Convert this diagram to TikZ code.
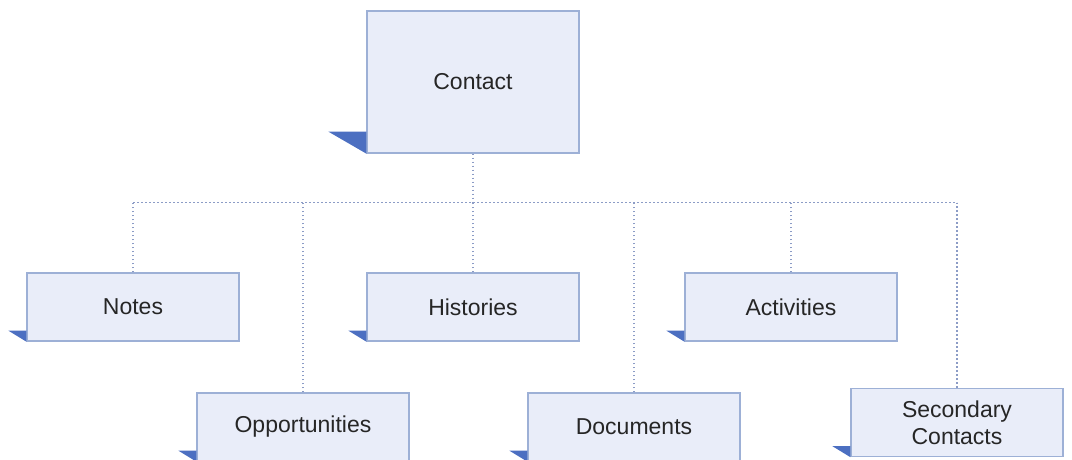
\documentclass[tikz,border=0pt]{standalone}
\usepackage{fontspec}
\setmainfont{Liberation Sans}
\usetikzlibrary{calc}
\definecolor{boxfill}{HTML}{E9EDF9}
\definecolor{boxline}{HTML}{9DB0D6}
\definecolor{flag}{HTML}{4C6FC1}
\definecolor{linkcol}{HTML}{8C9CC6}
\begin{document}
\begin{tikzpicture}[x=1pt,y=-1pt,
  card/.style={draw=boxline, line width=1.3pt, fill=boxfill, text=black!85,
    minimum width=212pt, minimum height=68pt, inner sep=0pt, align=center,
    font=\fontsize{23}{27}\selectfont},
  link/.style={draw=linkcol, line width=1.1pt, dash pattern=on 1.6pt off 2.4pt}]
\useasboundingbox (0,0) rectangle (1072,460);
\node[card, minimum height=142pt] (contact) at (473,82) {Contact};
\foreach \name/\x/\y/\txt in {notes/133/307/Notes, opps/303/427/Opportunities,
  hist/473/307/Histories, docs/634/427/Documents, acts/791/307/Activities,
  sec/957/422.5/{Secondary\\Contacts}}
  \node[card] (\name) at (\x,\y) {\txt};
% flags at the lower left corners
\fill[flag] (contact.south west) -- ++(-38,-22) -- ++(38,0) -- cycle;
\foreach \name in {notes, opps, hist, docs, acts, sec}
  \fill[flag] (\name.south west) -- ++(-18,-11) -- ++(18,0) -- cycle;
% dotted connectors
\draw[link] (contact.south) -- ++(0,49) coordinate (bus);
\draw[link] (notes.north |- bus) -- (sec.north |- bus);
\foreach \name in {notes, opps, hist, docs, acts, sec}
  \draw[link] (\name.north) -- (\name.north |- bus);
\end{tikzpicture}
\end{document}
